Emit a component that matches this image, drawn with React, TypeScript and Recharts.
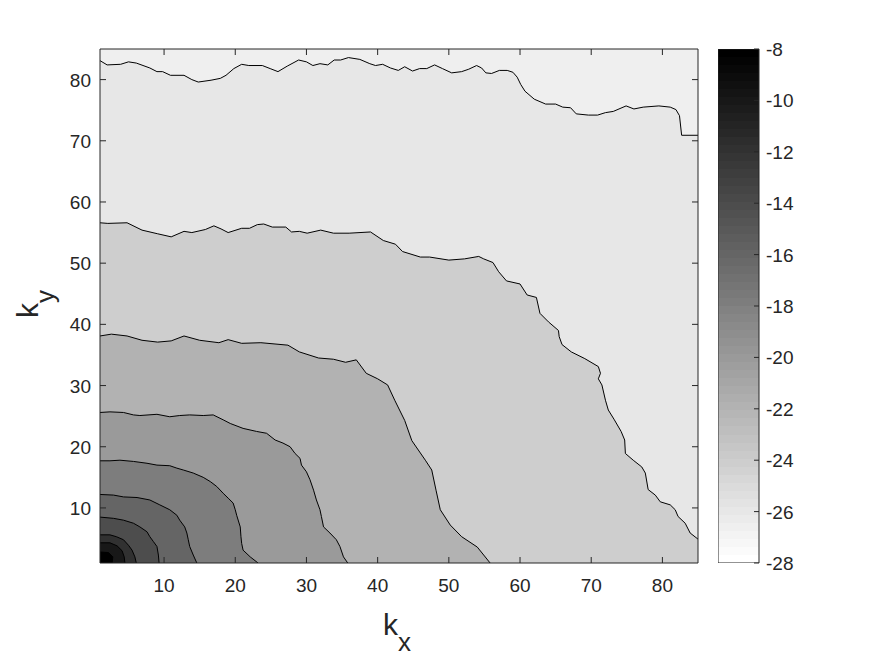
import React from 'react'
import { ComposedChart, BarChart, Bar, Area, XAxis, YAxis, ReferenceArea } from 'recharts'

// axis ticks
const KX_TICKS = [10, 20, 30, 40, 50, 60, 70, 80]
const KY_TICKS = [10, 20, 30, 40, 50, 60, 70, 80]
const CBAR_TICKS = [-28, -26, -24, -22, -20, -18, -16, -14, -12, -10, -8]

// contour levels, outermost first
const LEVELS = [-26, -24, -22, -20, -18, -16, -14, -12, -10, -8]

// contour lines, [kx, ky]
const C26 = [[1, 83.1], [2, 82.4], [3.9, 82.5], [5, 82.9], [6.1, 82.7], [8, 81.9], [9, 81.3], [9.8, 81.3], [10.9, 80.7], [12.8, 80.7], [13.9, 80], [14.8, 79.6], [16.6, 79.9], [17.9, 80.2], [18.7, 80.7], [19.8, 81.8], [20.9, 82.5], [21.9, 82.3], [23.8, 82.3], [24.9, 81.8], [26, 81.3], [27.3, 82.2], [28.9, 83.2], [30, 82.9], [30.9, 82.3], [31.9, 82.6], [33, 82.4], [33.9, 83.2], [34.8, 83.2], [35.9, 83.6], [37.5, 83.3], [38.9, 82.6], [39.7, 82.3], [40.7, 82.5], [41.8, 81.9], [42.9, 81.5], [43.8, 82.1], [44.9, 81.4], [45.9, 81.8], [46.9, 81.8], [48, 82.4], [49.1, 81.8], [50.4, 81.1], [51.8, 81.3], [52.8, 81.7], [53.9, 82.3], [54.6, 81.9], [55.2, 81.1], [56, 81], [57.1, 81.5], [58.2, 81.5], [59, 81.2], [59.6, 80.4], [60.1, 79.2], [60.7, 78.1], [62, 76.8], [63.6, 76], [65, 76], [66, 75.5], [67.1, 75.4], [67.9, 74.4], [69.6, 74.2], [70.9, 74.2], [72, 74.6], [73.1, 74.8], [74.9, 75.7], [76, 75.2], [77.3, 75.5], [79.5, 75.7], [81.1, 75.5], [81.9, 75.1], [82.4, 74.1], [82.7, 70.9], [85, 70.9]]
const C24 = [[1, 56.6], [2.1, 56.5], [4.8, 56.6], [6.9, 55.4], [9.1, 54.8], [11, 54.3], [12.8, 55.2], [13.9, 55], [15.8, 55.5], [17, 56.1], [18, 55.6], [19, 55], [20.9, 55.7], [22, 55.7], [23.1, 56.3], [24, 56.4], [25.2, 55.9], [27.1, 55.9], [27.9, 55.1], [29, 55.2], [30.1, 54.9], [32, 55.4], [33.8, 54.9], [36, 54.9], [39, 55.1], [40.8, 53.7], [42.5, 53.1], [43.5, 51.9], [46, 51], [47.3, 51], [50, 50.5], [52.2, 50.7], [54.2, 51.1], [54.9, 50.7], [56.2, 50.1], [57, 48.6], [58.1, 47.1], [60, 46.6], [61, 44.8], [62.3, 44.4], [62.8, 41.8], [64, 40.4], [65.4, 39], [65.5, 38], [65.9, 36.7], [67.2, 35.5], [69.1, 34.4], [71, 33.1], [71.3, 32], [71, 31.1], [71.5, 30.1], [72, 27.6], [72.4, 26], [73.2, 24.5], [74.2, 22.5], [74.7, 21.1], [74.8, 18.9], [75.9, 17.8], [77.1, 16.7], [77.6, 15.7], [78, 13], [79, 12.1], [79.7, 11], [81.1, 10.5], [81.8, 9.7], [82.2, 8.6], [83.2, 7.5], [83.9, 5.9], [85, 4.9]]
const C22 = [[1, 38.1], [2.6, 38.4], [4.8, 38.1], [6.9, 37.4], [9.1, 37.1], [11, 37.3], [12.8, 38.1], [15, 37.4], [17.7, 37], [19, 37.5], [20.9, 36.9], [23.6, 37], [27.4, 36.6], [29, 35.5], [31.7, 34.5], [33.8, 34.3], [35.5, 33.8], [37, 34.2], [38.4, 32], [40, 31.1], [41.4, 30.1], [42.4, 27.6], [43.8, 24.3], [44.8, 21], [46.7, 17.8], [47.6, 16.2], [48.2, 12.9], [48.8, 9.7], [50.2, 7.2], [51.8, 5.3], [54, 3.6], [55.8, 1]]
const C20 = [[1, 25.6], [2.4, 25.7], [4.3, 25.6], [5.7, 25.2], [6.6, 25.1], [9, 25.3], [10.8, 24.9], [12.2, 25.1], [13.6, 25.2], [15.5, 25.1], [16.9, 25.2], [18.3, 24.4], [19.3, 23.8], [21.1, 23], [23, 22.5], [24.4, 22.2], [25.6, 21.1], [26.7, 20.6], [27.7, 20], [28.4, 18.9], [29.1, 18.1], [29.3, 17], [30, 15.9], [30.5, 14.6], [31, 12.9], [31.4, 11.3], [31.9, 9.7], [32.1, 8.6], [32.4, 6.9], [33.3, 5.9], [34.2, 4.8], [34.7, 3.7], [35.2, 2], [35.8, 1]]
const C18 = [[1, 17.7], [2.4, 17.7], [3.8, 17.8], [5.7, 17.6], [7.6, 17.3], [9, 17], [10.8, 16.9], [11.8, 16.5], [12.7, 16.2], [14.1, 15.7], [15.5, 15], [16.5, 14.3], [17.4, 13.5], [18.3, 12.4], [19, 11.6], [19.7, 10.8], [20, 9.7], [20.2, 8.8], [20.7, 6.9], [20.8, 5.3], [20.9, 4.2], [21.1, 3.1], [22.1, 2], [23.2, 1]]
const C16 = [[1, 12.2], [2.9, 12.1], [4.3, 11.8], [6.2, 11.7], [8, 11.3], [9.4, 10.5], [10.8, 9.7], [11.8, 8.8], [12.2, 8], [12.9, 6.9], [13.2, 5.9], [13.4, 4.8], [13.6, 3.7], [14.1, 2.3], [14.6, 1]]
const C14 = [[1, 8.5], [2.9, 8.3], [4.3, 8], [5.7, 7.5], [6.6, 6.9], [7.6, 6.1], [8, 5.3], [8.5, 4.5], [9, 3.7], [9.2, 2.3], [9.3, 1]]
const C12 = [[1, 5.6], [2.4, 5.6], [3.3, 5.3], [4.3, 4.8], [5, 3.9], [5.5, 3.1], [5.9, 2], [6.1, 1]]
const C10 = [[1, 4.3], [2.4, 4.3], [3.4, 3.8], [4.1, 3], [4.4, 2], [4.5, 1]]
const C8 = [[1, 2.8], [2.2, 2.7], [2.8, 2], [2.7, 1]]

const CONTOURS = [C26, C24, C22, C20, C18, C16, C14, C12, C10, C8]

// colorbar: one bar spanning the colour limits
const CBAR_DATA = [{ name: 'cbar', range: [-28, -8] }]

// plot frame in page pixels
const PLOT_LEFT = 100
const PLOT_RIGHT = 698
const PLOT_TOP = 49
const PLOT_BOTTOM = 563
const CBAR_LEFT = 718
const CBAR_W = 41
const CBAR_AXIS_W = 80

const INK = '#262626'
const FONT = '"Liberation Sans", Arial, Helvetica, sans-serif'
const TICK_FS = 19
const C_MIN = -28
const C_MAX = -8
const FLOOR_VALUE = -26.67

// flipped gray(64) colormap, like the figure
const levelColor = (v: number) => {
  const idx = Math.min(64, Math.floor(((v - C_MIN) / (C_MAX - C_MIN)) * 64) + 1)
  const g = Math.round(((64 - idx) / 63) * 255)
  return `rgb(${g},${g},${g})`
}

const rows: Array<Record<string, number>> = []
CONTOURS.forEach((c, i) => {
  c.forEach(([kx, ky]) => rows.push({ kx, ['c' + i]: ky }))
})

const XTick = ({ x, payload }: any) => (
  <g>
    <line x1={x} x2={x} y1={PLOT_BOTTOM} y2={PLOT_BOTTOM - 6} stroke={INK} />
    <line x1={x} x2={x} y1={PLOT_TOP} y2={PLOT_TOP + 6} stroke={INK} />
    <text x={x} y={592} textAnchor="middle" fontSize={TICK_FS} fill={INK} fontFamily={FONT}>
      {payload.value}
    </text>
  </g>
)

const YTick = ({ y, payload }: any) => (
  <g>
    <line x1={PLOT_LEFT} x2={PLOT_LEFT + 6} y1={y} y2={y} stroke={INK} />
    <line x1={PLOT_RIGHT} x2={PLOT_RIGHT - 6} y1={y} y2={y} stroke={INK} />
    <text x={91} y={y + 7} textAnchor="end" fontSize={TICK_FS} fill={INK} fontFamily={FONT}>
      {payload.value}
    </text>
  </g>
)

// colorbar chart has its own svg, so coordinates are local to it
const CbarTick = ({ y, payload }: any) => (
  <g>
    <line x1={CBAR_W} x2={CBAR_W - 5} y1={y} y2={y} stroke={INK} />
    <text x={CBAR_W + 7} y={y + 7} textAnchor="start" fontSize={TICK_FS} fill={INK} fontFamily={FONT}>
      {payload.value}
    </text>
  </g>
)

const KxLabel = () => (
  <text x={383} y={635} fontSize={30} fill={INK} fontFamily={FONT}>
    k<tspan dy={16} fontSize={26}>x</tspan>
  </text>
)

const KyLabel = () => (
  <text x={38} y={318} transform="rotate(-90 38 318)" fontSize={30} fill={INK} fontFamily={FONT}>
    k<tspan dy={16} fontSize={26}>y</tspan>
  </text>
)

export default function App() {
  const stops: React.ReactNode[] = []
  for (let i = 0; i < 64; i++) {
    const g = Math.round(((63 - i) / 63) * 255)
    const col = `rgb(${g},${g},${g})`
    stops.push(<stop key={`a${i}`} offset={i / 64} stopColor={col} />)
    stops.push(<stop key={`b${i}`} offset={(i + 1) / 64} stopColor={col} />)
  }

  return (
    <div style={{ position: 'absolute', left: 0, top: 0, width: 875, height: 656, background: '#fff' }}>
      <div style={{ position: 'absolute', left: 0, top: 0 }}>
        <ComposedChart
          width={875}
          height={656}
          data={rows}
          margin={{ top: PLOT_TOP, right: 875 - PLOT_RIGHT, bottom: 63, left: 40 }}
        >
          <XAxis
            dataKey="kx"
            type="number"
            domain={[1, 85]}
            ticks={KX_TICKS}
            allowDataOverflow
            axisLine={false}
            tickLine={false}
            tickSize={0}
            height={30}
            tick={<XTick />}
            label={<KxLabel />}
          />
          <YAxis
            type="number"
            domain={[1, 85]}
            ticks={KY_TICKS}
            allowDataOverflow
            axisLine={false}
            tickLine={false}
            tickSize={0}
            width={60}
            tick={<YTick />}
            label={<KyLabel />}
          />
          <ReferenceArea x1={1} x2={85} y1={1} y2={85} fill={levelColor(FLOOR_VALUE)} fillOpacity={1} stroke="none" />
          {CONTOURS.map((_, i) => (
            <Area
              key={i}
              dataKey={'c' + i}
              type="linear"
              connectNulls
              baseValue={1}
              fill={levelColor(LEVELS[i])}
              fillOpacity={1}
              stroke="#000"
              strokeWidth={1}
              dot={false}
              activeDot={false}
              isAnimationActive={false}
            />
          ))}
          <ReferenceArea x1={1} x2={85} y1={1} y2={85} fill="none" stroke={INK} strokeWidth={1} />
        </ComposedChart>
      </div>
      <div style={{ position: 'absolute', left: CBAR_LEFT, top: 0 }}>
        <BarChart
          width={CBAR_W + CBAR_AXIS_W}
          height={656}
          data={CBAR_DATA}
          barCategoryGap={0}
          margin={{ top: PLOT_TOP, right: 0, bottom: 656 - PLOT_BOTTOM, left: 0 }}
        >
          <defs>
            <linearGradient id="cbarGrad" x1="0" y1="1" x2="0" y2="0">
              {stops}
            </linearGradient>
          </defs>
          <XAxis dataKey="name" type="category" hide />
          <YAxis
            orientation="right"
            type="number"
            domain={[C_MIN, C_MAX]}
            ticks={CBAR_TICKS}
            allowDataOverflow
            axisLine={false}
            tickLine={false}
            tickSize={0}
            width={CBAR_AXIS_W}
            tick={<CbarTick />}
          />
          <Bar dataKey="range" fill="url(#cbarGrad)" stroke={INK} strokeWidth={1} isAnimationActive={false} />
        </BarChart>
      </div>
    </div>
  )
}
